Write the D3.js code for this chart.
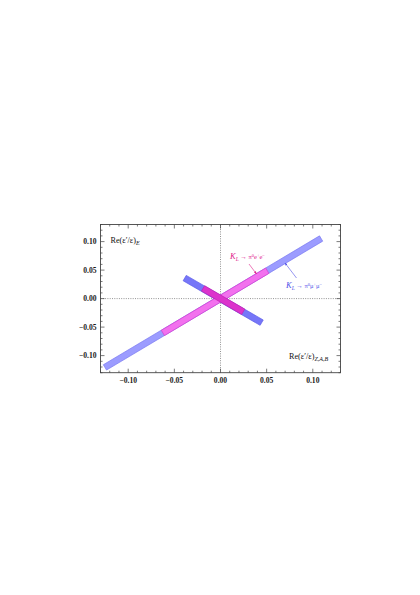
<!DOCTYPE html>
<html><head><meta charset="utf-8">
<script src="https://cdn.jsdelivr.net/npm/d3@7"></script>
<style>body{margin:0;background:#fff}svg{display:block}text{font-family:"Liberation Serif","Times New Roman",serif}</style>
</head><body>
<script>
// ---- data ----
const xDomain = [-0.13, 0.13];
const yDomain = [-0.13, 0.13];
const majorTicks = [-0.10, -0.05, 0.00, 0.05, 0.10];
const tickLabels = ["\u22120.10", "\u22120.05", "0.00", "0.05", "0.10"];
// band centre lines [x, y]
const muLongBand = [[-0.1252, -0.1207], [0.109, 0.1054]];
const muShortBand = [[-0.0388, 0.036], [0.0446, -0.0422]];
const eeLongBand = [[-0.0624, -0.0602], [0.0507, 0.0489]];
const eeShortBand = [[-0.0189, 0.0179], [0.0246, -0.0231]];
const labelEE = ["K", "L", " \u2192 \u03c0", "0", "e", "+", "e", "\u2212"];
const labelMU = ["K", "L", " \u2192 \u03c0", "0", "\u03bc", "+", "\u03bc", "\u2212"];

const W = 420, H = 595;
const m = {left: 100.5, top: 224.5, right: 340.5, bottom: 372.7};
const svg = d3.select("body").append("svg").attr("width", W).attr("height", H);
const x = d3.scaleLinear().domain(xDomain).range([m.left, m.right]);
const y = d3.scaleLinear().domain(yDomain).range([m.bottom, m.top]);

const defs = svg.append("defs");
defs.append("clipPath").attr("id", "clip")
  .append("rect").attr("x", m.left).attr("y", m.top).attr("width", m.right - m.left).attr("height", m.bottom - m.top);

const g = svg.append("g").attr("clip-path", "url(#clip)");
g.append("line").attr("x1", x(0)).attr("x2", x(0)).attr("y1", m.top).attr("y2", m.bottom)
  .attr("stroke", "#777").attr("stroke-width", 0.8).attr("stroke-dasharray", "1,1.3");
g.append("line").attr("y1", y(0)).attr("y2", y(0)).attr("x1", m.left).attr("x2", m.right)
  .attr("stroke", "#777").attr("stroke-width", 0.8).attr("stroke-dasharray", "1,1.3");

function band(seg, hw) {
  const p0 = [x(seg[0][0]), y(seg[0][1])], p1 = [x(seg[1][0]), y(seg[1][1])];
  const dx = p1[0] - p0[0], dy = p1[1] - p0[1], L = Math.hypot(dx, dy);
  const nx = -dy / L * hw, ny = dx / L * hw;
  return [[p0[0] + nx, p0[1] + ny], [p1[0] + nx, p1[1] + ny], [p1[0] - nx, p1[1] - ny], [p0[0] - nx, p0[1] - ny]];
}
const line = d3.line();
const hw = 3.1;
g.append("path").attr("d", line(band(muLongBand, hw)) + "Z")
  .attr("fill", "#9c9cff").attr("stroke", "#7878f0").attr("stroke-width", 0.7);
g.append("path").attr("d", line(band(muShortBand, hw)) + "Z")
  .attr("fill", "#7676f8").attr("stroke", "#5a5ae8").attr("stroke-width", 0.7);
g.append("path").attr("d", line(band(eeLongBand, hw)) + "Z")
  .attr("fill", "#f271ee").attr("stroke", "#d83cd0").attr("stroke-width", 0.7);
g.append("path").attr("d", line(band(eeShortBand, hw)) + "Z")
  .attr("fill", "#dc34cc").attr("stroke", "#c020b4").attr("stroke-width", 0.7);

svg.append("rect").attr("x", m.left).attr("y", m.top).attr("width", m.right - m.left).attr("height", m.bottom - m.top)
  .attr("fill", "none").attr("stroke", "#444").attr("stroke-width", 0.9);

const minor = d3.range(-13, 14).map(d => d / 100);
const tk = svg.append("g").attr("stroke", "#444").attr("stroke-width", 0.7);
minor.forEach(v => {
  const isMajor = Math.abs(Math.round(v * 100) % 5) === 0;
  const len = isMajor ? 4 : 2;
  tk.append("line").attr("x1", x(v)).attr("x2", x(v)).attr("y1", m.bottom).attr("y2", m.bottom - len);
  tk.append("line").attr("x1", x(v)).attr("x2", x(v)).attr("y1", m.top).attr("y2", m.top + len);
  tk.append("line").attr("y1", y(v)).attr("y2", y(v)).attr("x1", m.left).attr("x2", m.left + len);
  tk.append("line").attr("y1", y(v)).attr("y2", y(v)).attr("x1", m.right).attr("x2", m.right - len);
});
majorTicks.forEach((v, i) => {
  svg.append("text").attr("x", x(v)).attr("y", m.bottom + 10.5).attr("text-anchor", "middle")
    .attr("font-size", 7.6).attr("font-weight", "bold").attr("fill", "#1a1a1a").text(tickLabels[i]);
  svg.append("text").attr("x", m.left - 4).attr("y", y(v) + 2.6).attr("text-anchor", "end")
    .attr("font-size", 7.6).attr("font-weight", "bold").attr("fill", "#1a1a1a").text(tickLabels[i]);
});

function reLabel(xp, yp, sub) {
  const t = svg.append("text").attr("x", xp).attr("y", yp).attr("font-size", 8.2).attr("fill", "#111");
  t.append("tspan").text("Re(\u03b5\u2032/\u03b5)");
  t.append("tspan").attr("dy", 2.4).attr("font-size", 6).attr("font-style", "italic").text(sub);
}
reLabel(110.5, 243, "E");
reLabel(289, 359, "Z,A,B");

function procLabel(xp, yp, p, color) {
  const t = svg.append("text").attr("x", xp).attr("y", yp).attr("font-size", 8.5).attr("fill", color);
  t.append("tspan").attr("font-style", "italic").text(p[0]);
  t.append("tspan").attr("dy", 1.8).attr("font-size", 5.5).attr("font-style", "italic").text(p[1]);
  t.append("tspan").attr("dy", -1.8).attr("font-size", 6.5).text(p[2]);
  t.append("tspan").attr("dy", -2.5).attr("font-size", 4.5).text(p[3]);
  t.append("tspan").attr("dy", 2.5).attr("font-size", 6.5).text(p[4]);
  t.append("tspan").attr("dy", -2.5).attr("font-size", 4.5).text(p[5]);
  t.append("tspan").attr("dy", 2.5).attr("font-size", 6.5).text(p[6]);
  t.append("tspan").attr("dy", -2.5).attr("font-size", 4.5).text(p[7]);
}
procLabel(230, 259, labelEE, "#e0208c");
procLabel(286, 288, labelMU, "#5050e8");

[["ae", "#e0208c"], ["am", "#5050e8"]].forEach(([id, c]) => {
  defs.append("marker").attr("id", id).attr("viewBox", "0 0 10 10").attr("refX", 9).attr("refY", 5)
    .attr("markerWidth", 5).attr("markerHeight", 5).attr("orient", "auto")
    .append("path").attr("d", "M0,1L10,5L0,9Z").attr("fill", c);
});
svg.append("line").attr("x1", 249).attr("y1", 264).attr("x2", 256.5).attr("y2", 274)
  .attr("stroke", "#e0208c").attr("stroke-width", 0.6).attr("marker-end", "url(#ae)");
svg.append("line").attr("x1", 296.5).attr("y1", 278).attr("x2", 285).attr("y2", 263)
  .attr("stroke", "#5050e8").attr("stroke-width", 0.6).attr("marker-end", "url(#am)");
</script>
</body></html>
